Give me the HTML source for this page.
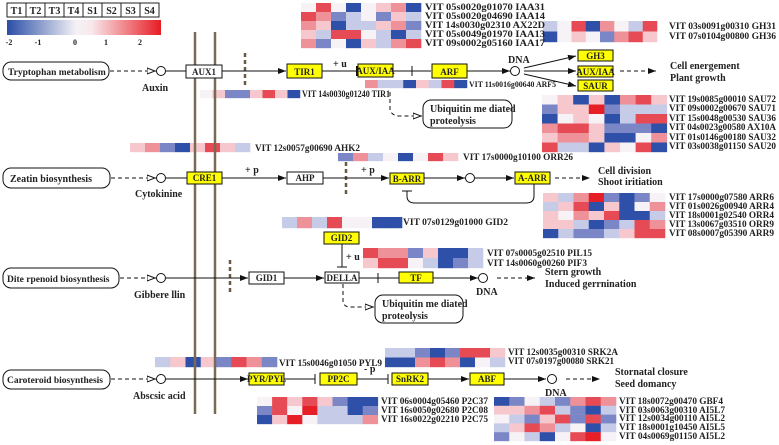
<!DOCTYPE html>
<html><head><meta charset="utf-8"><style>
html,body{margin:0;padding:0;background:#fff;}
svg{display:block;}
text{font-family:"Liberation Serif",serif;font-weight:bold;fill:#222;}
.g{font-size:9.5px;}
.p{font-size:10px;}
.lab{font-size:10px;}
.B{fill:#2f50a8}.b{fill:#7a86c6}.l{fill:#c6cbe8}.w{fill:#f6f2f6}.p_{fill:#f6c8ce}.r{fill:#ee9198}.R{fill:#e64b55}.X{fill:#e61e26}
</style></head><body>
<svg width="779" height="445" viewBox="0 0 779 445" xmlns="http://www.w3.org/2000/svg">
<defs>
<linearGradient id="cb" x1="0" x2="1" y1="0" y2="0">
<stop offset="0" stop-color="#2a4ea6"/><stop offset="0.45" stop-color="#f4f2f6"/><stop offset="0.55" stop-color="#f8e8ea"/><stop offset="1" stop-color="#e81c24"/>
</linearGradient>
<marker id="a" markerWidth="8" markerHeight="6" refX="8" refY="3" orient="auto" markerUnits="userSpaceOnUse"><path d="M0,0 L8,3 L0,6z" fill="#111"/></marker>
<marker id="o" markerWidth="9" markerHeight="7" refX="9" refY="3.5" orient="auto" markerUnits="userSpaceOnUse"><path d="M0,0.5 L8,3.5 L0,6.5z" fill="#fff" stroke="#111" stroke-width="1"/></marker>
<marker id="t" markerWidth="2" markerHeight="10" refX="1" refY="5" orient="auto" markerUnits="userSpaceOnUse"><rect x="0" y="0" width="1.5" height="10" fill="#111"/></marker>
</defs>
<!-- heatmaps -->
<g transform="translate(301,3) scale(1.5,0.9)">
<rect x="0" y="0" width="10.2" height="10.2" class="w"/><rect x="10" y="0" width="10.2" height="10.2" class="R"/><rect x="20" y="0" width="10.2" height="10.2" class="w"/><rect x="30" y="0" width="10.2" height="10.2" class="B"/><rect x="40" y="0" width="10.2" height="10.2" class="w"/><rect x="50" y="0" width="10.2" height="10.2" class="p_"/><rect x="60" y="0" width="10.2" height="10.2" class="r"/><rect x="70" y="0" width="10.2" height="10.2" class="B"/>
<rect x="0" y="10" width="10.2" height="10.2" class="R"/><rect x="10" y="10" width="10.2" height="10.2" class="r"/><rect x="20" y="10" width="10.2" height="10.2" class="b"/><rect x="30" y="10" width="10.2" height="10.2" class="l"/><rect x="40" y="10" width="10.2" height="10.2" class="w"/><rect x="50" y="10" width="10.2" height="10.2" class="b"/><rect x="60" y="10" width="10.2" height="10.2" class="p_"/><rect x="70" y="10" width="10.2" height="10.2" class="l"/>
<rect x="0" y="20" width="10.2" height="10.2" class="r"/><rect x="10" y="20" width="10.2" height="10.2" class="p_"/><rect x="20" y="20" width="10.2" height="10.2" class="B"/><rect x="30" y="20" width="10.2" height="10.2" class="l"/><rect x="40" y="20" width="10.2" height="10.2" class="l"/><rect x="50" y="20" width="10.2" height="10.2" class="p_"/><rect x="60" y="20" width="10.2" height="10.2" class="r"/><rect x="70" y="20" width="10.2" height="10.2" class="b"/>
<rect x="0" y="30" width="10.2" height="10.2" class="p_"/><rect x="10" y="30" width="10.2" height="10.2" class="l"/><rect x="20" y="30" width="10.2" height="10.2" class="R"/><rect x="30" y="30" width="10.2" height="10.2" class="R"/><rect x="40" y="30" width="10.2" height="10.2" class="w"/><rect x="50" y="30" width="10.2" height="10.2" class="l"/><rect x="60" y="30" width="10.2" height="10.2" class="B"/><rect x="70" y="30" width="10.2" height="10.2" class="l"/>
<rect x="0" y="40" width="10.2" height="10.2" class="r"/><rect x="10" y="40" width="10.2" height="10.2" class="b"/><rect x="20" y="40" width="10.2" height="10.2" class="w"/><rect x="30" y="40" width="10.2" height="10.2" class="B"/><rect x="40" y="40" width="10.2" height="10.2" class="p_"/><rect x="50" y="40" width="10.2" height="10.2" class="l"/><rect x="60" y="40" width="10.2" height="10.2" class="r"/><rect x="70" y="40" width="10.2" height="10.2" class="R"/>
</g>
<g transform="translate(543,21) scale(1.425,1.05)">
<rect x="0" y="0" width="10.2" height="10.2" class="l"/><rect x="10" y="0" width="10.2" height="10.2" class="w"/><rect x="20" y="0" width="10.2" height="10.2" class="R"/><rect x="30" y="0" width="10.2" height="10.2" class="B"/><rect x="40" y="0" width="10.2" height="10.2" class="r"/><rect x="50" y="0" width="10.2" height="10.2" class="w"/><rect x="60" y="0" width="10.2" height="10.2" class="l"/><rect x="70" y="0" width="10.2" height="10.2" class="R"/>
<rect x="0" y="10" width="10.2" height="10.2" class="B"/><rect x="10" y="10" width="10.2" height="10.2" class="w"/><rect x="20" y="10" width="10.2" height="10.2" class="p_"/><rect x="30" y="10" width="10.2" height="10.2" class="w"/><rect x="40" y="10" width="10.2" height="10.2" class="b"/><rect x="50" y="10" width="10.2" height="10.2" class="r"/><rect x="60" y="10" width="10.2" height="10.2" class="R"/><rect x="70" y="10" width="10.2" height="10.2" class="p_"/>
</g>
<g transform="translate(200,90) scale(1.25,0.8)">
<rect x="0" y="0" width="10.2" height="10.2" class="w"/><rect x="10" y="0" width="10.2" height="10.2" class="p_"/><rect x="20" y="0" width="10.2" height="10.2" class="b"/><rect x="30" y="0" width="10.2" height="10.2" class="b"/><rect x="40" y="0" width="10.2" height="10.2" class="p_"/><rect x="50" y="0" width="10.2" height="10.2" class="R"/><rect x="60" y="0" width="10.2" height="10.2" class="p_"/><rect x="70" y="0" width="10.2" height="10.2" class="B"/>
</g>
<g transform="translate(365,80) scale(1.275,0.8)">
<rect x="0" y="0" width="10.2" height="10.2" class="r"/><rect x="10" y="0" width="10.2" height="10.2" class="l"/><rect x="20" y="0" width="10.2" height="10.2" class="l"/><rect x="30" y="0" width="10.2" height="10.2" class="B"/><rect x="40" y="0" width="10.2" height="10.2" class="p_"/><rect x="50" y="0" width="10.2" height="10.2" class="l"/><rect x="60" y="0" width="10.2" height="10.2" class="R"/><rect x="70" y="0" width="10.2" height="10.2" class="B"/>
</g>
<g transform="translate(542,95) scale(1.56,0.95)">
<rect x="0" y="0" width="10.2" height="10.2" class="w"/><rect x="10" y="0" width="10.2" height="10.2" class="p_"/><rect x="20" y="0" width="10.2" height="10.2" class="B"/><rect x="30" y="0" width="10.2" height="10.2" class="p_"/><rect x="40" y="0" width="10.2" height="10.2" class="B"/><rect x="50" y="0" width="10.2" height="10.2" class="r"/><rect x="60" y="0" width="10.2" height="10.2" class="R"/><rect x="70" y="0" width="10.2" height="10.2" class="p_"/>
<rect x="0" y="10" width="10.2" height="10.2" class="b"/><rect x="10" y="10" width="10.2" height="10.2" class="p_"/><rect x="20" y="10" width="10.2" height="10.2" class="p_"/><rect x="30" y="10" width="10.2" height="10.2" class="X"/><rect x="40" y="10" width="10.2" height="10.2" class="b"/><rect x="50" y="10" width="10.2" height="10.2" class="l"/><rect x="60" y="10" width="10.2" height="10.2" class="l"/><rect x="70" y="10" width="10.2" height="10.2" class="l"/>
<rect x="0" y="20" width="10.2" height="10.2" class="B"/><rect x="10" y="20" width="10.2" height="10.2" class="w"/><rect x="20" y="20" width="10.2" height="10.2" class="p_"/><rect x="30" y="20" width="10.2" height="10.2" class="w"/><rect x="40" y="20" width="10.2" height="10.2" class="B"/><rect x="50" y="20" width="10.2" height="10.2" class="l"/><rect x="60" y="20" width="10.2" height="10.2" class="R"/><rect x="70" y="20" width="10.2" height="10.2" class="R"/>
<rect x="0" y="30" width="10.2" height="10.2" class="r"/><rect x="10" y="30" width="10.2" height="10.2" class="R"/><rect x="20" y="30" width="10.2" height="10.2" class="R"/><rect x="30" y="30" width="10.2" height="10.2" class="p_"/><rect x="40" y="30" width="10.2" height="10.2" class="b"/><rect x="50" y="30" width="10.2" height="10.2" class="b"/><rect x="60" y="30" width="10.2" height="10.2" class="b"/><rect x="70" y="30" width="10.2" height="10.2" class="B"/>
<rect x="0" y="40" width="10.2" height="10.2" class="p_"/><rect x="10" y="40" width="10.2" height="10.2" class="r"/><rect x="20" y="40" width="10.2" height="10.2" class="r"/><rect x="30" y="40" width="10.2" height="10.2" class="p_"/><rect x="40" y="40" width="10.2" height="10.2" class="B"/><rect x="50" y="40" width="10.2" height="10.2" class="B"/><rect x="60" y="40" width="10.2" height="10.2" class="w"/><rect x="70" y="40" width="10.2" height="10.2" class="r"/>
<rect x="0" y="50" width="10.2" height="10.2" class="R"/><rect x="10" y="50" width="10.2" height="10.2" class="l"/><rect x="20" y="50" width="10.2" height="10.2" class="l"/><rect x="30" y="50" width="10.2" height="10.2" class="B"/><rect x="40" y="50" width="10.2" height="10.2" class="p_"/><rect x="50" y="50" width="10.2" height="10.2" class="w"/><rect x="60" y="50" width="10.2" height="10.2" class="R"/><rect x="70" y="50" width="10.2" height="10.2" class="B"/>
</g>
<g transform="translate(130,143) scale(1.5,0.9)">
<rect x="0" y="0" width="10.2" height="10.2" class="p_"/><rect x="10" y="0" width="10.2" height="10.2" class="r"/><rect x="20" y="0" width="10.2" height="10.2" class="b"/><rect x="30" y="0" width="10.2" height="10.2" class="B"/><rect x="40" y="0" width="10.2" height="10.2" class="p_"/><rect x="50" y="0" width="10.2" height="10.2" class="R"/><rect x="60" y="0" width="10.2" height="10.2" class="p_"/><rect x="70" y="0" width="10.2" height="10.2" class="l"/>
</g>
<g transform="translate(338,153) scale(1.5,0.8)">
<rect x="0" y="0" width="10.2" height="10.2" class="b"/><rect x="10" y="0" width="10.2" height="10.2" class="r"/><rect x="20" y="0" width="10.2" height="10.2" class="l"/><rect x="30" y="0" width="10.2" height="10.2" class="w"/><rect x="40" y="0" width="10.2" height="10.2" class="B"/><rect x="50" y="0" width="10.2" height="10.2" class="w"/><rect x="60" y="0" width="10.2" height="10.2" class="R"/><rect x="70" y="0" width="10.2" height="10.2" class="p_"/>
</g>
<g transform="translate(543,193) scale(1.525,0.9)">
<rect x="0" y="0" width="10.2" height="10.2" class="p_"/><rect x="10" y="0" width="10.2" height="10.2" class="l"/><rect x="20" y="0" width="10.2" height="10.2" class="r"/><rect x="30" y="0" width="10.2" height="10.2" class="X"/><rect x="40" y="0" width="10.2" height="10.2" class="b"/><rect x="50" y="0" width="10.2" height="10.2" class="B"/><rect x="60" y="0" width="10.2" height="10.2" class="b"/><rect x="70" y="0" width="10.2" height="10.2" class="w"/>
<rect x="0" y="10" width="10.2" height="10.2" class="l"/><rect x="10" y="10" width="10.2" height="10.2" class="p_"/><rect x="20" y="10" width="10.2" height="10.2" class="R"/><rect x="30" y="10" width="10.2" height="10.2" class="B"/><rect x="40" y="10" width="10.2" height="10.2" class="p_"/><rect x="50" y="10" width="10.2" height="10.2" class="B"/><rect x="60" y="10" width="10.2" height="10.2" class="w"/><rect x="70" y="10" width="10.2" height="10.2" class="r"/>
<rect x="0" y="20" width="10.2" height="10.2" class="p_"/><rect x="10" y="20" width="10.2" height="10.2" class="w"/><rect x="20" y="20" width="10.2" height="10.2" class="r"/><rect x="30" y="20" width="10.2" height="10.2" class="p_"/><rect x="40" y="20" width="10.2" height="10.2" class="R"/><rect x="50" y="20" width="10.2" height="10.2" class="B"/><rect x="60" y="20" width="10.2" height="10.2" class="B"/><rect x="70" y="20" width="10.2" height="10.2" class="l"/>
<rect x="0" y="30" width="10.2" height="10.2" class="p_"/><rect x="10" y="30" width="10.2" height="10.2" class="p_"/><rect x="20" y="30" width="10.2" height="10.2" class="l"/><rect x="30" y="30" width="10.2" height="10.2" class="B"/><rect x="40" y="30" width="10.2" height="10.2" class="b"/><rect x="50" y="30" width="10.2" height="10.2" class="l"/><rect x="60" y="30" width="10.2" height="10.2" class="R"/><rect x="70" y="30" width="10.2" height="10.2" class="r"/>
<rect x="0" y="40" width="10.2" height="10.2" class="B"/><rect x="10" y="40" width="10.2" height="10.2" class="l"/><rect x="20" y="40" width="10.2" height="10.2" class="b"/><rect x="30" y="40" width="10.2" height="10.2" class="b"/><rect x="40" y="40" width="10.2" height="10.2" class="l"/><rect x="50" y="40" width="10.2" height="10.2" class="p_"/><rect x="60" y="40" width="10.2" height="10.2" class="R"/><rect x="70" y="40" width="10.2" height="10.2" class="R"/>
</g>
<g transform="translate(282,217) scale(1.5,1.1)">
<rect x="0" y="0" width="10.2" height="10.2" class="l"/><rect x="10" y="0" width="10.2" height="10.2" class="r"/><rect x="20" y="0" width="10.2" height="10.2" class="l"/><rect x="30" y="0" width="10.2" height="10.2" class="R"/><rect x="40" y="0" width="10.2" height="10.2" class="w"/><rect x="50" y="0" width="10.2" height="10.2" class="w"/><rect x="60" y="0" width="10.2" height="10.2" class="B"/><rect x="70" y="0" width="10.2" height="10.2" class="B"/>
</g>
<g transform="translate(363,248) scale(1.5,1.0)">
<rect x="0" y="0" width="10.2" height="10.2" class="R"/><rect x="10" y="0" width="10.2" height="10.2" class="r"/><rect x="20" y="0" width="10.2" height="10.2" class="r"/><rect x="30" y="0" width="10.2" height="10.2" class="b"/><rect x="40" y="0" width="10.2" height="10.2" class="p_"/><rect x="50" y="0" width="10.2" height="10.2" class="B"/><rect x="60" y="0" width="10.2" height="10.2" class="B"/><rect x="70" y="0" width="10.2" height="10.2" class="l"/>
<rect x="0" y="10" width="10.2" height="10.2" class="p_"/><rect x="10" y="10" width="10.2" height="10.2" class="R"/><rect x="20" y="10" width="10.2" height="10.2" class="R"/><rect x="30" y="10" width="10.2" height="10.2" class="w"/><rect x="40" y="10" width="10.2" height="10.2" class="l"/><rect x="50" y="10" width="10.2" height="10.2" class="B"/><rect x="60" y="10" width="10.2" height="10.2" class="b"/><rect x="70" y="10" width="10.2" height="10.2" class="l"/>
</g>
<g transform="translate(155,357) scale(1.525,1.0)">
<rect x="0" y="0" width="10.2" height="10.2" class="l"/><rect x="10" y="0" width="10.2" height="10.2" class="p_"/><rect x="20" y="0" width="10.2" height="10.2" class="B"/><rect x="30" y="0" width="10.2" height="10.2" class="p_"/><rect x="40" y="0" width="10.2" height="10.2" class="b"/><rect x="50" y="0" width="10.2" height="10.2" class="R"/><rect x="60" y="0" width="10.2" height="10.2" class="r"/><rect x="70" y="0" width="10.2" height="10.2" class="b"/>
</g>
<g transform="translate(385,348) scale(1.5,0.95)">
<rect x="0" y="0" width="10.2" height="10.2" class="l"/><rect x="10" y="0" width="10.2" height="10.2" class="l"/><rect x="20" y="0" width="10.2" height="10.2" class="b"/><rect x="30" y="0" width="10.2" height="10.2" class="B"/><rect x="40" y="0" width="10.2" height="10.2" class="b"/><rect x="50" y="0" width="10.2" height="10.2" class="R"/><rect x="60" y="0" width="10.2" height="10.2" class="R"/><rect x="70" y="0" width="10.2" height="10.2" class="p_"/>
<rect x="0" y="10" width="10.2" height="10.2" class="B"/><rect x="10" y="10" width="10.2" height="10.2" class="B"/><rect x="20" y="10" width="10.2" height="10.2" class="r"/><rect x="30" y="10" width="10.2" height="10.2" class="R"/><rect x="40" y="10" width="10.2" height="10.2" class="r"/><rect x="50" y="10" width="10.2" height="10.2" class="B"/><rect x="60" y="10" width="10.2" height="10.2" class="w"/><rect x="70" y="10" width="10.2" height="10.2" class="l"/>
</g>
<g transform="translate(257,397) scale(1.51,0.9)">
<rect x="0" y="0" width="10.2" height="10.2" class="w"/><rect x="10" y="0" width="10.2" height="10.2" class="R"/><rect x="20" y="0" width="10.2" height="10.2" class="p_"/><rect x="30" y="0" width="10.2" height="10.2" class="R"/><rect x="40" y="0" width="10.2" height="10.2" class="p_"/><rect x="50" y="0" width="10.2" height="10.2" class="b"/><rect x="60" y="0" width="10.2" height="10.2" class="B"/><rect x="70" y="0" width="10.2" height="10.2" class="B"/>
<rect x="0" y="10" width="10.2" height="10.2" class="b"/><rect x="10" y="10" width="10.2" height="10.2" class="R"/><rect x="20" y="10" width="10.2" height="10.2" class="w"/><rect x="30" y="10" width="10.2" height="10.2" class="X"/><rect x="40" y="10" width="10.2" height="10.2" class="l"/><rect x="50" y="10" width="10.2" height="10.2" class="l"/><rect x="60" y="10" width="10.2" height="10.2" class="B"/><rect x="70" y="10" width="10.2" height="10.2" class="b"/>
<rect x="0" y="20" width="10.2" height="10.2" class="B"/><rect x="10" y="20" width="10.2" height="10.2" class="p_"/><rect x="20" y="20" width="10.2" height="10.2" class="X"/><rect x="30" y="20" width="10.2" height="10.2" class="w"/><rect x="40" y="20" width="10.2" height="10.2" class="l"/><rect x="50" y="20" width="10.2" height="10.2" class="l"/><rect x="60" y="20" width="10.2" height="10.2" class="l"/><rect x="70" y="20" width="10.2" height="10.2" class="r"/>
</g>
<g transform="translate(494,397) scale(1.525,0.88)">
<rect x="0" y="0" width="10.2" height="10.2" class="B"/><rect x="10" y="0" width="10.2" height="10.2" class="b"/><rect x="20" y="0" width="10.2" height="10.2" class="w"/><rect x="30" y="0" width="10.2" height="10.2" class="l"/><rect x="40" y="0" width="10.2" height="10.2" class="b"/><rect x="50" y="0" width="10.2" height="10.2" class="r"/><rect x="60" y="0" width="10.2" height="10.2" class="R"/><rect x="70" y="0" width="10.2" height="10.2" class="r"/>
<rect x="0" y="10" width="10.2" height="10.2" class="p_"/><rect x="10" y="10" width="10.2" height="10.2" class="p_"/><rect x="20" y="10" width="10.2" height="10.2" class="r"/><rect x="30" y="10" width="10.2" height="10.2" class="R"/><rect x="40" y="10" width="10.2" height="10.2" class="l"/><rect x="50" y="10" width="10.2" height="10.2" class="b"/><rect x="60" y="10" width="10.2" height="10.2" class="B"/><rect x="70" y="10" width="10.2" height="10.2" class="l"/>
<rect x="0" y="20" width="10.2" height="10.2" class="w"/><rect x="10" y="20" width="10.2" height="10.2" class="l"/><rect x="20" y="20" width="10.2" height="10.2" class="b"/><rect x="30" y="20" width="10.2" height="10.2" class="p_"/><rect x="40" y="20" width="10.2" height="10.2" class="R"/><rect x="50" y="20" width="10.2" height="10.2" class="b"/><rect x="60" y="20" width="10.2" height="10.2" class="R"/><rect x="70" y="20" width="10.2" height="10.2" class="b"/>
<rect x="0" y="30" width="10.2" height="10.2" class="l"/><rect x="10" y="30" width="10.2" height="10.2" class="p_"/><rect x="20" y="30" width="10.2" height="10.2" class="R"/><rect x="30" y="30" width="10.2" height="10.2" class="r"/><rect x="40" y="30" width="10.2" height="10.2" class="l"/><rect x="50" y="30" width="10.2" height="10.2" class="w"/><rect x="60" y="30" width="10.2" height="10.2" class="B"/><rect x="70" y="30" width="10.2" height="10.2" class="l"/>
<rect x="0" y="40" width="10.2" height="10.2" class="b"/><rect x="10" y="40" width="10.2" height="10.2" class="w"/><rect x="20" y="40" width="10.2" height="10.2" class="l"/><rect x="30" y="40" width="10.2" height="10.2" class="B"/><rect x="40" y="40" width="10.2" height="10.2" class="w"/><rect x="50" y="40" width="10.2" height="10.2" class="R"/><rect x="60" y="40" width="10.2" height="10.2" class="X"/><rect x="70" y="40" width="10.2" height="10.2" class="w"/>
</g>
<!-- legend -->
<g fill="#fff" stroke="#222" stroke-width="1">
<rect x="7" y="3" width="19" height="14"/><rect x="26" y="3" width="19" height="14"/><rect x="45" y="3" width="19" height="14"/><rect x="64" y="3" width="19" height="14"/><rect x="83" y="3" width="19" height="14"/><rect x="102" y="3" width="19" height="14"/><rect x="121" y="3" width="19" height="14"/><rect x="140" y="3" width="19" height="14"/>
</g>
<g class="p" text-anchor="middle"><text x="16.5" y="14">T1</text><text x="35.5" y="14">T2</text><text x="54.5" y="14">T3</text><text x="73.5" y="14">T4</text><text x="92.5" y="14">S1</text><text x="111.5" y="14">S2</text><text x="130.5" y="14">S3</text><text x="149.5" y="14">S4</text></g>
<rect x="7" y="20" width="154" height="15" fill="url(#cb)"/>
<g style="font-size:8px" text-anchor="middle"><text x="9" y="45">-2</text><text x="38" y="45">-1</text><text x="75" y="45">0</text><text x="106" y="45">1</text><text x="140" y="45">2</text></g>
<!-- membranes -->
<line x1="195" y1="32" x2="195" y2="414" stroke="#7a6a55" stroke-width="2.5"/>
<line x1="215" y1="32" x2="215" y2="414" stroke="#7a6a55" stroke-width="2.5"/>
<g stroke="#6a5a45" stroke-width="2.5" stroke-dasharray="4,3">
<line x1="245" y1="53" x2="245" y2="88"/><line x1="346" y1="162" x2="346" y2="194"/><line x1="230" y1="260" x2="230" y2="292"/>
</g>
<g fill="none" stroke="#111" stroke-width="1">
<rect x="3" y="62" width="106" height="18" rx="8"/>
<line x1="110" y1="71" x2="156" y2="71" stroke-dasharray="4,3" marker-end="url(#o)"/>
<circle cx="161" cy="71" r="4.5"/>
<line x1="166" y1="71" x2="186" y2="71"/>
<line x1="222" y1="71" x2="286" y2="71" marker-end="url(#a)"/>
<line x1="322" y1="71" x2="357" y2="71" marker-end="url(#t)"/>
<line x1="393" y1="71" x2="431" y2="71"/><line x1="412" y1="66" x2="412" y2="76"/>
<line x1="467" y1="71" x2="510" y2="71" marker-end="url(#a)"/>
<circle cx="515" cy="71" r="4.5"/>
<line x1="524" y1="68" x2="576" y2="56" marker-end="url(#a)"/>
<line x1="524" y1="71" x2="576" y2="71" marker-end="url(#a)"/>
<line x1="524" y1="74" x2="576" y2="86" marker-end="url(#a)"/>
<line x1="620" y1="71" x2="656" y2="71" stroke-dasharray="4,3" marker-end="url(#a)"/>
<path d="M390,92 L390,110 Q392,116 400,116 L422,116" stroke-dasharray="4,3" marker-end="url(#o)"/>
<rect x="423" y="100" width="89" height="28" rx="8"/>
<rect x="3" y="168" width="107" height="20" rx="8"/>
<line x1="111" y1="178" x2="156" y2="178" stroke-dasharray="4,3" marker-end="url(#o)"/>
<circle cx="161" cy="178" r="4.5"/>
<line x1="166" y1="178" x2="187" y2="178"/>
<line x1="222" y1="178" x2="286" y2="178" marker-end="url(#a)"/>
<line x1="323" y1="178" x2="389" y2="178" marker-end="url(#a)"/>
<line x1="424" y1="178" x2="465" y2="178" marker-end="url(#a)"/>
<circle cx="470" cy="178" r="4.5"/>
<line x1="475" y1="178" x2="514" y2="178" marker-end="url(#a)"/>
<path d="M534,184 L534,196 Q534,203 526,203 L415,203 Q407,203 407,196 L407,191"/>
<line x1="402" y1="191" x2="412" y2="191"/>
<line x1="555" y1="178" x2="590" y2="178" stroke-dasharray="4,3" marker-end="url(#a)"/>
<rect x="3" y="268" width="116" height="20" rx="8"/>
<line x1="120" y1="278" x2="156" y2="278" stroke-dasharray="4,3" marker-end="url(#o)"/>
<circle cx="161" cy="278" r="4.5"/>
<line x1="166" y1="278" x2="248" y2="278" marker-end="url(#a)"/>
<line x1="284" y1="278" x2="324" y2="278" marker-end="url(#a)"/>
<line x1="342" y1="244" x2="342" y2="267"/><line x1="337" y1="267" x2="347" y2="267"/>
<line x1="359" y1="278" x2="399" y2="278"/><line x1="378" y1="273" x2="378" y2="283"/>
<line x1="433" y1="278" x2="478" y2="278" marker-end="url(#a)"/>
<circle cx="483" cy="278" r="4.5"/>
<line x1="497" y1="278" x2="535" y2="278" stroke-dasharray="4,3" marker-end="url(#a)"/>
<path d="M343,284 L343,302 Q344,307 350,307 L374,307" stroke-dasharray="4,3" marker-end="url(#o)"/>
<rect x="375" y="295" width="88" height="28" rx="8"/>
<rect x="3" y="370" width="107" height="19" rx="8"/>
<line x1="111" y1="379" x2="156" y2="379" stroke-dasharray="4,3" marker-end="url(#o)"/>
<circle cx="161" cy="379" r="4.5"/>
<line x1="166" y1="379" x2="248" y2="379" marker-end="url(#a)"/>
<line x1="284" y1="379" x2="315" y2="379"/><line x1="315" y1="374" x2="315" y2="384"/>
<line x1="357" y1="379" x2="388" y2="379"/><line x1="388" y1="374" x2="388" y2="384"/>
<line x1="428" y1="379" x2="469" y2="379" marker-end="url(#a)"/>
<line x1="504" y1="379" x2="546" y2="379" marker-end="url(#a)"/>
<circle cx="552" cy="379" r="4.5"/>
<line x1="566" y1="379" x2="600" y2="379" stroke-dasharray="4,3" marker-end="url(#a)"/>
</g>
<g stroke="#111" stroke-width="1">
<rect x="186" y="65" width="36" height="13" fill="#fff"/>
<rect x="287" y="64" width="35" height="14" fill="#ffff00"/>
<rect x="358" y="64" width="35" height="13" fill="#ffff00"/>
<rect x="432" y="64" width="35" height="14" fill="#ffff00"/>
<rect x="578" y="50" width="35" height="11" fill="#ffff00"/>
<rect x="578" y="66" width="35" height="11" fill="#ffff00"/>
<rect x="578" y="80" width="35" height="11" fill="#ffff00"/>
<rect x="187" y="172" width="35" height="12" fill="#ffff00"/>
<rect x="287" y="172" width="36" height="12" fill="#fff"/>
<rect x="390" y="173" width="34" height="11" fill="#ffff00"/>
<rect x="515" y="172" width="35" height="12" fill="#ffff00"/>
<rect x="324" y="232" width="35" height="12" fill="#ffff00"/>
<rect x="249" y="272" width="35" height="12" fill="#fff"/>
<rect x="325" y="272" width="34" height="11" fill="#fff"/>
<rect x="399" y="272" width="34" height="11" fill="#ffff00"/>
<rect x="249" y="373" width="35" height="12" fill="#ffff00"/>
<rect x="320" y="373" width="37" height="12" fill="#ffff00"/>
<rect x="392" y="373" width="36" height="12" fill="#ffff00"/>
<rect x="470" y="373" width="34" height="12" fill="#ffff00"/>
</g>
<g style="font-size:9px;font-weight:normal" text-anchor="middle">
<text x="204" y="75">AUX1</text><text x="304.5" y="75">TIR1</text><text x="375.5" y="74">AUX/IAA</text><text x="449.5" y="75">ARF</text>
<text x="595.5" y="59">GH3</text><text x="595.5" y="75">AUX/IAA</text><text x="595.5" y="89">SAUR</text>
<text x="204.5" y="181">CRE1</text><text x="305" y="181">AHP</text><text x="407" y="182">B-ARR</text><text x="532.5" y="181">A-ARR</text>
<text x="341.5" y="241">GID2</text><text x="266.5" y="281">GID1</text><text x="342" y="281">DELLA</text><text x="416" y="281">TF</text>
<text x="266.5" y="382">PYR/PYL</text><text x="338.5" y="382">PP2C</text><text x="410" y="382">SnRK2</text><text x="487" y="382">ABF</text>
</g>
<g class="lab">
<text x="8" y="75" style="font-size:9.5px">Tryptophan metabolism</text>
<text x="10" y="182">Zeatin biosynthesis</text>
<text x="7" y="282" style="font-size:9.5px">Dite rpenoid biosynthesis</text>
<text x="7" y="383" style="font-size:9.5px">Caroteroid biosynthesis</text>
<text x="142" y="91">Auxin</text><text x="135" y="197">Cytokinine</text><text x="134" y="298">Gibbere llin</text><text x="133" y="399">Abscsic acid</text>
<text x="333" y="67">+ u</text><text x="508" y="63">DNA</text>
<text x="670" y="69">Cell energement</text><text x="670" y="81">Plant growth</text>
<text x="430" y="112">Ubiquitin me diated</text><text x="430" y="124">proteolysis</text>
<text x="245" y="173">+ p</text><text x="361" y="173">+ p</text>
<text x="598" y="174">Cell division</text><text x="598" y="185">Shoot iritiation</text>
<text x="346" y="260">+ u</text>
<text x="545" y="275">Stern growth</text><text x="545" y="287">Induced gerrnination</text><text x="476" y="295">DNA</text>
<text x="382" y="307">Ubiquitin me diated</text><text x="382" y="319">proteolysis</text>
<text x="364" y="372">- p</text><text x="545" y="396">DNA</text>
<text x="615" y="375">Stornatal closure</text><text x="615" y="387">Seed domancy</text>
</g>
<g class="g" lengthAdjust="spacingAndGlyphs">
<text x="425" y="10" textLength="120" lengthAdjust="spacingAndGlyphs">VIT 05s0020g01070  IAA31</text><text x="425" y="19" textLength="120" lengthAdjust="spacingAndGlyphs">VIT 05s0020g04690  IAA14</text><text x="425" y="28" textLength="120" lengthAdjust="spacingAndGlyphs">VIT 14s0030g02310  AX22D</text><text x="425" y="37" textLength="120" lengthAdjust="spacingAndGlyphs">VIT 05s0049g01970  IAA13</text><text x="425" y="46" textLength="120" lengthAdjust="spacingAndGlyphs">VIT 09s0002g05160  IAA17</text>
<text x="669" y="29" textLength="107" lengthAdjust="spacingAndGlyphs">VIT 03s0091g00310  GH31</text><text x="669" y="39" textLength="107" lengthAdjust="spacingAndGlyphs">VIT 07s0104g00800  GH36</text>
<text x="302" y="97" textLength="88" lengthAdjust="spacingAndGlyphs">VIT 14s0030g01240  TIR1</text>
<text x="469" y="87" style="font-size:8px" textLength="87" lengthAdjust="spacingAndGlyphs">VIT 11s0016g00640  ARF5</text>
<text x="669" y="102" textLength="107" lengthAdjust="spacingAndGlyphs">VIT 19s0085g00010 SAU72</text><text x="669" y="111" textLength="107" lengthAdjust="spacingAndGlyphs">VIT 09s0002g00670 SAU71</text><text x="669" y="121" textLength="107" lengthAdjust="spacingAndGlyphs">VIT 15s0048g00530 SAU36</text><text x="669" y="130" textLength="107" lengthAdjust="spacingAndGlyphs">VIT 04s0023g00580 AX10A</text><text x="669" y="140" textLength="107" lengthAdjust="spacingAndGlyphs">VIT 01s0146g00180 SAU32</text><text x="669" y="149" textLength="107" lengthAdjust="spacingAndGlyphs">VIT 03s0038g01150 SAU20</text>
<text x="255" y="151" textLength="105" lengthAdjust="spacingAndGlyphs">VIT 12s0057g00690  AHK2</text>
<text x="463" y="160" textLength="110" lengthAdjust="spacingAndGlyphs">VIT 17s0000g10100  ORR26</text>
<text x="669" y="200" textLength="105" lengthAdjust="spacingAndGlyphs">VIT 17s0000g07580  ARR6</text><text x="669" y="209" textLength="105" lengthAdjust="spacingAndGlyphs">VIT 01s0026g00940  ARR4</text><text x="669" y="218" textLength="105" lengthAdjust="spacingAndGlyphs">VIT 18s0001g02540  ORR4</text><text x="669" y="227" textLength="105" lengthAdjust="spacingAndGlyphs">VIT 13s0067g03510  ORR9</text><text x="669" y="236" textLength="105" lengthAdjust="spacingAndGlyphs">VIT 08s0007g05390  ARR9</text>
<text x="403" y="225" textLength="105" lengthAdjust="spacingAndGlyphs">VIT 07s0129g01000  GID2</text>
<text x="487" y="256" textLength="105" lengthAdjust="spacingAndGlyphs">VIT 07s0005g02510  PIL15</text><text x="487" y="266" textLength="100" lengthAdjust="spacingAndGlyphs">VIT 14s0060g00260  PIF3</text>
<text x="279" y="366" textLength="103" lengthAdjust="spacingAndGlyphs">VIT 15s0046g01050  PYL9</text>
<text x="508" y="355" textLength="110" lengthAdjust="spacingAndGlyphs">VIT 12s0035g00310  SRK2A</text><text x="508" y="364" textLength="106" lengthAdjust="spacingAndGlyphs">VIT 07s0197g00080  SRK21</text>
<text x="381" y="404" textLength="107" lengthAdjust="spacingAndGlyphs">VIT 06s0004g05460  P2C37</text><text x="381" y="413" textLength="107" lengthAdjust="spacingAndGlyphs">VIT 16s0050g02680  P2C08</text><text x="381" y="422" textLength="107" lengthAdjust="spacingAndGlyphs">VIT 16s0022g02210  P2C75</text>
<text x="619" y="404" textLength="104" lengthAdjust="spacingAndGlyphs">VIT 18s0072g00470  GBF4</text><text x="619" y="413" textLength="106" lengthAdjust="spacingAndGlyphs">VIT 03s0063g00310  AI5L7</text><text x="619" y="421" textLength="106" lengthAdjust="spacingAndGlyphs">VIT 12s0034g00110  AI5L2</text><text x="619" y="430" textLength="106" lengthAdjust="spacingAndGlyphs">VIT 18s0001g10450  AI5L5</text><text x="619" y="439" textLength="106" lengthAdjust="spacingAndGlyphs">VIT 04s0069g01150  AI5L2</text>
</g>
</svg>
</body></html>
